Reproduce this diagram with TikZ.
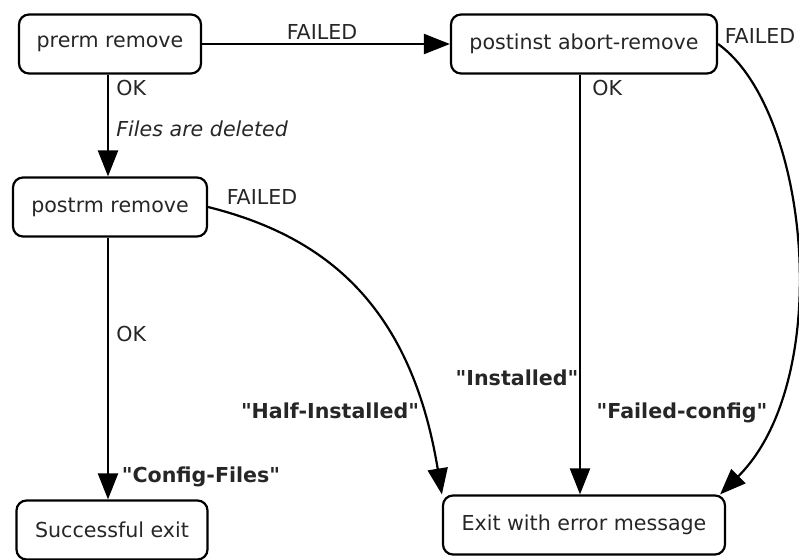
\documentclass[tikz,border=0pt]{standalone}
\usepackage{fontspec}
\setmainfont{DejaVu Sans}
\usetikzlibrary{arrows.meta}
\begin{document}
\begin{tikzpicture}[x=0.5pt,y=-0.5pt,
  txt/.style={font=\fontsize{10.3}{12}\selectfont, text=black!85},
  state/.style={txt, draw, line width=1.1pt, rounded corners=5pt, inner sep=0pt, minimum height=29.5pt},
  flow/.style={line width=1.1pt, -{Triangle[length=13pt,width=10pt]}},
  lbl/.style={txt, inner sep=0pt},
  blbl/.style={lbl, font=\fontsize{10.3}{12}\selectfont\bfseries}]
\useasboundingbox (0,0) rectangle (799,559);

% states
\node[state, minimum width=91pt]  (prerm)    at (110,44)  {prerm remove};
\node[state, minimum width=133pt] (postinst) at (584,44)  {postinst abort-remove};
\node[state, minimum width=97pt]  (postrm)   at (110,207) {postrm remove};
\node[state, minimum width=95.5pt](success)  at (112,530) {Successful exit};
\node[state, minimum width=141pt] (errexit)  at (584,525) {Exit with error message};

% transitions
\draw[flow] (prerm.east) -- (postinst.west);
\draw[flow] ([xshift=-1pt]prerm.south) -- ([xshift=-1pt]postrm.north);
\draw[flow] ([xshift=-2pt]postinst.south) -- ([xshift=-2pt]errexit.north);
\draw[flow] ([xshift=-1pt]postrm.south) -- ([xshift=-2pt]success.north);
\draw[flow] (postrm.east) .. controls (320,235) and (410,300) .. (errexit.north west);
\draw[flow] (postinst.east) .. controls (810,110) and (835,380) .. ([xshift=-3pt]errexit.north east);

% labels
\node[lbl] (l1) at (322,32) {FAILED};
\node[lbl, anchor=west] (l2) at (116,88) {OK};
\node[lbl, anchor=west, font=\fontsize{10.3}{12}\selectfont\itshape] (l3) at (116,129) {Files are deleted};
\node[lbl, anchor=west] (l4) at (592,88) {OK};
\node[lbl] (l5) at (760,36) {FAILED};
\node[lbl] (l6) at (262,197) {FAILED};
\node[lbl, anchor=west] (l7) at (116,334) {OK};
\node[blbl] (l8) at (330,411) {\textquotedbl Half-Installed\textquotedbl};
\node[blbl] (l9) at (201,477) {\textquotedbl Config-Files\textquotedbl};
\node[blbl] (l10) at (517,378) {\textquotedbl Installed\textquotedbl};
\node[blbl] (l11) at (682,413) {\textquotedbl Failed-config\textquotedbl};
\end{tikzpicture}
\end{document}
